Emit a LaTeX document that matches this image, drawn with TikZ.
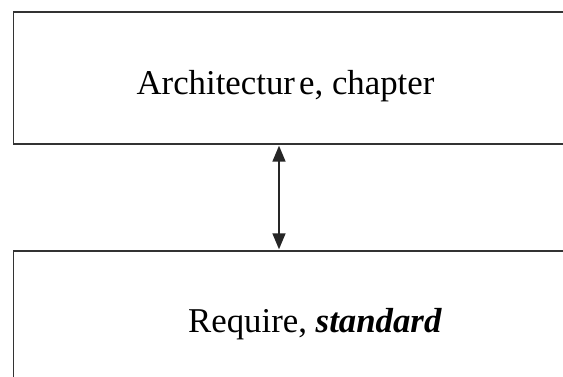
\documentclass[tikz,border=0pt]{standalone}
\usepackage{fontspec}
\setmainfont{Liberation Serif}
\usetikzlibrary{arrows.meta}
\tikzset{
  boxshape/.style={draw=black!80, line width=1.8pt, rectangle, inner sep=0pt},
  boxtext/.style={anchor=base, inner sep=0pt, font=\fontsize{34.8}{40}\selectfont},
  link/.style={draw=black!85, line width=1.6pt, {Triangle[length=16pt,width=13pt]}-{Triangle[length=16pt,width=13pt]}, shorten <=0.5pt, shorten >=0.5pt}
}
\begin{document}
\begin{tikzpicture}[x=1pt,y=1pt]
\useasboundingbox (0,0) rectangle (563,377);
\clip (0,0) rectangle (563,377);
\fill[white] (0,0) rectangle (563,377);
\node[boxshape, minimum width=600pt, minimum height=132pt] (top) at (313.5,298.7) {};
\node[boxshape, minimum width=600pt, minimum height=160pt] (bot) at (313.5,46.3) {};
\node[boxtext] (toptext) at (285.5,282) {{\spaceskip=0.12em\relax Architectur e}, chapter};
\node[boxtext] (bottext) at (315,44) {Require, \textbf{\textit{standard}}};
\coordinate (a1) at (top.south -| 279,0);
\coordinate (a2) at (bot.north -| 279,0);
\draw[link] (a1) -- (a2);
\end{tikzpicture}
\end{document}
